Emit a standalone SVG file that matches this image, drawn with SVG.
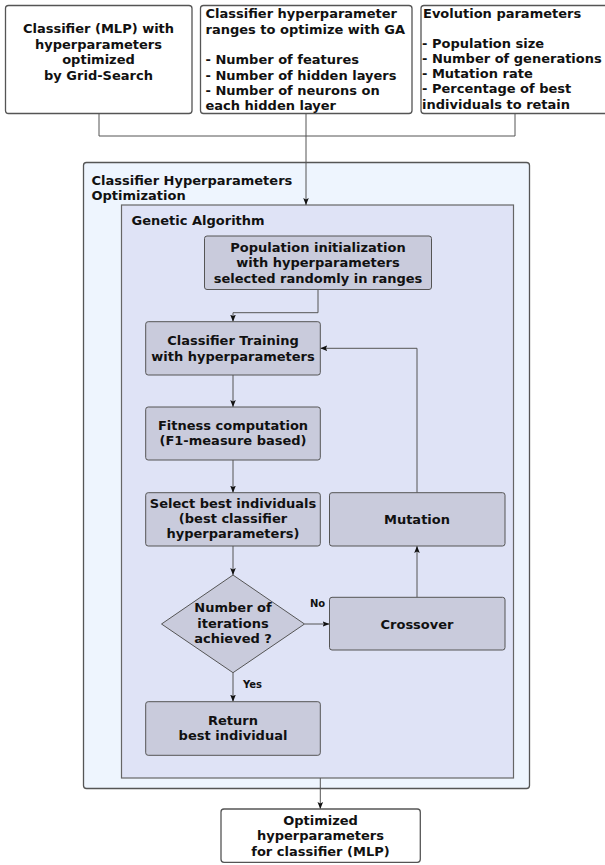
<svg xmlns="http://www.w3.org/2000/svg" width="605" height="865" viewBox="0 0 605 865">
<defs>
<marker id="ah" viewBox="0 0 10 10" refX="10" refY="5" markerWidth="7" markerHeight="7" orient="auto" markerUnits="userSpaceOnUse">
<path d="M0,1 L10,5 L0,9 L2,5 z" fill="#111"/>
</marker>
<style>
text{font-family:"DejaVu Sans",Verdana,sans-serif;font-weight:bold;font-size:13px;fill:#111}
.c{text-anchor:middle}
.w{fill:#fff;stroke:#555;stroke-width:1.3}
.n{fill:#c9cbdc;stroke:#555;stroke-width:1}
.lbl{font-size:10px}
.e{fill:none;stroke:#555;stroke-width:1}
</style>
</defs>
<rect width="605" height="865" fill="#fff"/>

<g id="container-opt">
<rect x="83.5" y="162.5" width="446" height="626" rx="3" fill="#eef5fe" stroke="#555" stroke-width="1.3"/>
<text x="91.5" y="185">Classifier Hyperparameters</text>
<text x="91.5" y="200">Optimization</text>
</g>
<g id="container-ga">
<rect x="121.5" y="205" width="392" height="573" fill="#dfe3f6" stroke="#666" stroke-width="1.2"/>
<text x="131.5" y="225">Genetic Algorithm</text>
</g>

<g id="connectors">
<path class="e" d="M99,113 V136 H515 V113"/>
<path class="e" d="M306,113 V205" marker-end="url(#ah)"/>
<path class="e" d="M318,289.5 V312.7 H233 V321.7" marker-end="url(#ah)"/>
<path class="e" d="M233,375 V407" marker-end="url(#ah)"/>
<path class="e" d="M233,460 V492.7" marker-end="url(#ah)"/>
<path class="e" d="M233,546 V575" marker-end="url(#ah)"/>
<path class="e" d="M304.5,624 H329.5" marker-end="url(#ah)"/>
<path class="e" d="M417,597.3 V546" marker-end="url(#ah)"/>
<path class="e" d="M417,492.7 V348.3 H320.3" marker-end="url(#ah)"/>
<path class="e" d="M233,672.7 V701.7" marker-end="url(#ah)"/>
<path class="e" d="M320.3,778 V809" marker-end="url(#ah)"/>
<text class="lbl" x="310" y="607">No</text>
<text class="lbl" x="243" y="688">Yes</text>
</g>

<g id="box-classifier-grid">
<rect class="w" x="5.5" y="5.5" width="186.5" height="108" rx="3"/>
<text class="c" x="98.5" y="33">Classifier (MLP) with</text>
<text class="c" x="98.5" y="48.5">hyperparameters</text>
<text class="c" x="98.5" y="64">optimized</text>
<text class="c" x="98.5" y="79.5">by Grid-Search</text>
</g>

<g id="box-ranges">
<rect class="w" x="200.5" y="5.5" width="211.5" height="108" rx="3"/>
<text x="205.5" y="18.3">Classifier hyperparameter</text>
<text x="205.5" y="33.6">ranges to optimize with GA</text>
<text x="205.5" y="64.2">- Number of features</text>
<text x="205.5" y="79.5">- Number of hidden layers</text>
<text x="205.5" y="94.8">- Number of neurons on</text>
<text x="205.5" y="110">each hidden layer</text>
</g>

<g id="box-evolution">
<rect class="w" x="421" y="5.5" width="190" height="108" rx="3"/>
<text x="423" y="17.5">Evolution parameters</text>
<text x="422" y="47.8">- Population size</text>
<text x="422" y="63">- Number of generations</text>
<text x="422" y="78.2">- Mutation rate</text>
<text x="422" y="93.4">- Percentage of best</text>
<text x="422" y="108.6">individuals to retain</text>
</g>

<g id="node-init">
<rect class="n" x="204.5" y="236" width="227" height="53.5" rx="2.5"/>
<text class="c" x="318" y="251.8">Population initialization</text>
<text class="c" x="318" y="267.2">with hyperparameters</text>
<text class="c" x="318" y="282.6">selected randomly in ranges</text>
</g>

<g id="node-training">
<rect class="n" x="145.7" y="321.7" width="174.6" height="53.3" rx="2.5"/>
<text class="c" x="233" y="345">Classifier Training</text>
<text class="c" x="233" y="360.5">with hyperparameters</text>
</g>

<g id="node-fitness">
<rect class="n" x="145.7" y="407" width="174.6" height="53" rx="2.5"/>
<text class="c" x="233" y="430">Fitness computation</text>
<text class="c" x="233" y="445.3">(F1-measure based)</text>
</g>

<g id="node-select">
<rect class="n" x="145.7" y="492.7" width="174.6" height="53.3" rx="2.5"/>
<text class="c" x="233" y="507.5">Select best individuals</text>
<text class="c" x="233" y="522.8">(best classifier</text>
<text class="c" x="233" y="538">hyperparameters)</text>
</g>

<g id="node-mutation">
<rect class="n" x="329.5" y="492.7" width="175.5" height="53.3" rx="2.5"/>
<text class="c" x="417" y="523.5">Mutation</text>
</g>

<g id="node-decision">
<path class="n" d="M233,575 L304.5,624 L233,672.7 L161.5,624 Z"/>
<text class="c" x="233" y="612.3">Number of</text>
<text class="c" x="233" y="627.7">iterations</text>
<text class="c" x="233" y="643">achieved ?</text>
</g>

<g id="node-crossover">
<rect class="n" x="329.5" y="597.3" width="175.5" height="52.7" rx="2.5"/>
<text class="c" x="417" y="628.5">Crossover</text>
</g>

<g id="node-return">
<rect class="n" x="145.7" y="701.7" width="174.6" height="53.6" rx="2.5"/>
<text class="c" x="233" y="725">Return</text>
<text class="c" x="233" y="740.3">best individual</text>
</g>

<g id="box-output">
<rect class="w" x="221" y="809" width="199.3" height="53.3" rx="3"/>
<text class="c" x="320.5" y="825">Optimized</text>
<text class="c" x="320.5" y="840.3">hyperparameters</text>
<text class="c" x="320.5" y="855.5">for classifier (MLP)</text>
</g>
</svg>
